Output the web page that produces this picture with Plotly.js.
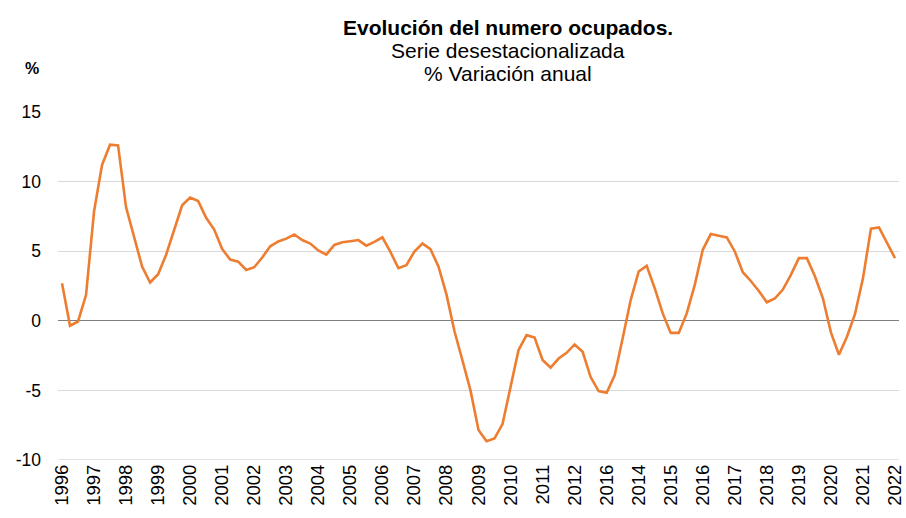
<!DOCTYPE html>
<html>
<head>
<meta charset="utf-8">
<script src="https://cdn.plot.ly/plotly-3.0.1.min.js"></script>
<style>html,body{margin:0;padding:0;background:#fff;}#chart{width:906px;height:518px;}</style>
</head>
<body>
<div id="chart"></div>
<script>
// Year labels shown under the axis (one every 4 quarters), as printed in the source
const tickLabels = ["1996","1997","1998","1999","2000","2001","2002","2003","2004","2005","2006","2007","2008",
  "2009","2010","2011","2012","2016","2014","2015","2016","2017","2018","2019","2020","2021","2022"];

// Quarterly year-on-year % change of employed persons (seasonally adjusted), 1996Q1 .. 2022Q1
const values = [
  2.7, -0.35, -0.05, 1.85,
  7.85, 11.2, 12.65, 12.6,
  8.15, 6.05, 3.9, 2.75,
  3.35, 4.75, 6.55, 8.3,
  8.85, 8.6, 7.4, 6.55,
  5.15, 4.4, 4.25, 3.65,
  3.85, 4.55, 5.35, 5.7,
  5.9, 6.2, 5.8, 5.55,
  5.05, 4.75, 5.45, 5.65,
  5.72, 5.8, 5.4, 5.67,
  6.0, 4.95, 3.78, 4.0,
  4.98, 5.55, 5.15, 3.9,
  1.9, -0.75, -2.85, -5.0,
  -7.85, -8.65, -8.45, -7.42,
  -4.75, -2.1, -1.03, -1.2,
  -2.82, -3.36, -2.71, -2.3,
  -1.7, -2.23, -4.04, -5.05,
  -5.17, -3.92, -1.25, 1.49,
  3.54, 3.95, 2.34, 0.53,
  -0.87, -0.87, 0.53, 2.58,
  5.1, 6.23, 6.11, 5.99,
  4.98, 3.49, 2.86, 2.14,
  1.33, 1.6, 2.24, 3.3,
  4.5, 4.5, 3.2, 1.62,
  -0.83, -2.44, -1.15, 0.47,
  3.05, 6.62, 6.71, 5.63,
  4.5
];

const yTicks = [-10, -5, 0, 5, 10, 15];

const xIdx = values.map((_, i) => i);
const tickPos = tickLabels.map((_, k) => k * 4);

const W = 906, H = 518;
const M = {l: 58, r: 7, t: 112, b: 58};
const plotW = W - M.l - M.r, plotH = H - M.t - M.b;
const px = x => (x - M.l) / plotW;
const py = y => (H - M.b - y) / plotH;

const FONT = "Liberation Sans, Arial, sans-serif";

const trace = {
  x: xIdx,
  y: values,
  type: 'scatter',
  mode: 'lines',
  line: {color: '#ED7D31', width: 2.6},
  hoverinfo: 'skip'
};

const layout = {
  width: W, height: H,
  margin: M,
  paper_bgcolor: '#fff',
  plot_bgcolor: '#fff',
  showlegend: false,
  font: {family: FONT, color: '#000'},
  xaxis: {
    range: [-0.5, values.length - 0.5],
    tickmode: 'array',
    tickvals: tickPos,
    ticktext: tickLabels,
    tickangle: -90,
    tickfont: {size: 18.5, family: FONT, color: '#000'},
    ticklabeloverflow: 'allow',
    showgrid: false,
    zeroline: false,
    showline: false,
    ticks: '',
    fixedrange: true
  },
  yaxis: {
    range: [-10, 15],
    tickmode: 'array',
    tickvals: yTicks,
    ticktext: yTicks.map(String),
    tickfont: {size: 17.5, family: FONT, color: '#000'},
    showgrid: true,
    gridcolor: '#d9d9d9',
    gridwidth: 1.3,
    zeroline: true,
    zerolinecolor: '#7f7f7f',
    zerolinewidth: 1.3,
    showline: false,
    ticks: '',
    ticklabelstandoff: 16,
    fixedrange: true
  },
  annotations: [
    {text: '<b>Evolución del numero ocupados.</b>', xref: 'paper', yref: 'paper',
     x: px(508), y: py(28), xanchor: 'center', yanchor: 'middle', showarrow: false,
     font: {size: 21, family: FONT, color: '#000'}},
    {text: 'Serie desestacionalizada', xref: 'paper', yref: 'paper',
     x: px(508), y: py(50), xanchor: 'center', yanchor: 'middle', showarrow: false,
     font: {size: 21, family: FONT, color: '#000'}},
    {text: '% Variación anual', xref: 'paper', yref: 'paper',
     x: px(508), y: py(73), xanchor: 'center', yanchor: 'middle', showarrow: false,
     font: {size: 21, family: FONT, color: '#000'}},
    {text: '<b>%</b>', xref: 'paper', yref: 'paper',
     x: px(32), y: py(69), xanchor: 'center', yanchor: 'middle', showarrow: false,
     font: {size: 16, family: FONT, color: '#000'}}
  ]
};

// bottom category-axis line at -10 drawn as a light grey rule (like the gridlines)
layout.shapes = [{
  type: 'line', xref: 'paper', yref: 'y', x0: 0, x1: 1, y0: -10, y1: -10,
  line: {color: '#d9d9d9', width: 1.3}, layer: 'below'
}];

Plotly.newPlot('chart', [trace], layout, {displayModeBar: false, staticPlot: true});
</script>
</body>
</html>
